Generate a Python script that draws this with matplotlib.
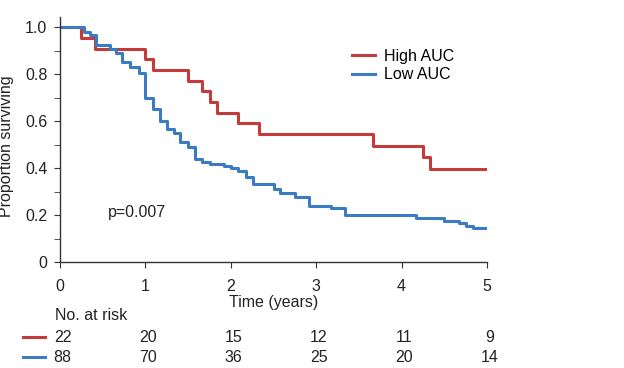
import numpy as np
import matplotlib
matplotlib.use("Agg")
import matplotlib.pyplot as plt
from matplotlib.ticker import MultipleLocator
from matplotlib.lines import Line2D
import matplotlib.transforms as mtransforms

plt.rcParams['font.family'] = ['Liberation Sans', 'DejaVu Sans']
plt.rcParams['font.size'] = 11.5

# Kaplan-Meier steps (time in years, survival after step)
high_t = [0, 0.25, 0.41, 1.0, 1.085, 1.50, 1.665, 1.756, 1.835, 2.09, 2.33, 3.67, 4.25, 4.33, 5.0]
high_s = [1.0, 0.955, 0.909, 0.864, 0.818, 0.773, 0.727, 0.682, 0.636, 0.591, 0.545, 0.496, 0.446, 0.397, 0.397]

low_t = [0, 0.28, 0.35, 0.42, 0.59, 0.66, 0.73, 0.82, 0.92, 1.0, 1.085, 1.17, 1.25, 1.33,
         1.41, 1.50, 1.58, 1.66, 1.756, 1.92, 2.0, 2.09, 2.18, 2.256, 2.51, 2.58, 2.75,
         2.92, 3.17, 3.34, 4.17, 4.50, 4.67, 4.75, 4.84, 5.0]
low_s = [1.0, 0.98, 0.966, 0.926, 0.906, 0.892, 0.854, 0.832, 0.807, 0.70, 0.653, 0.60, 0.568, 0.549,
         0.513, 0.49, 0.44, 0.428, 0.42, 0.408, 0.40, 0.39, 0.362, 0.332, 0.312, 0.295, 0.279,
         0.24, 0.23, 0.20, 0.188, 0.177, 0.166, 0.155, 0.145, 0.145]

risk_times = [0, 1, 2, 3, 4, 5]
risk_high = [22, 20, 15, 12, 11, 9]
risk_low = [88, 70, 36, 25, 20, 14]

red = '#c43c39'
blue = '#3b7bc4'
axis_col = '#333333'

fig = plt.figure(figsize=(6.24, 3.68), dpi=100)
ax = fig.add_axes([60/624, 105.7/368, 427/624, 245.6/368])

ax.step(high_t, high_s, where='post', color=red, lw=2.2, label='High AUC')
ax.step(low_t, low_s, where='post', color=blue, lw=2.2, label='Low AUC')

ax.set_xlim(0, 5)
ax.set_ylim(0, 1.045)
ax.spines['top'].set_visible(False)
ax.spines['right'].set_visible(False)
for s in ['left', 'bottom']:
    ax.spines[s].set_color(axis_col)
    ax.spines[s].set_linewidth(1.0)

ax.xaxis.set_major_locator(MultipleLocator(1))
ax.yaxis.set_minor_locator(MultipleLocator(0.1))
ax.set_yticks([0, 0.2, 0.4, 0.6, 0.8, 1.0])
ax.set_yticklabels(['0', '0.2', '0.4', '0.6', '0.8', '1.0'])
ax.tick_params(axis='both', which='both', direction='out', length=4, color=axis_col, labelcolor='#222222')
ax.tick_params(axis='x', pad=8)
ax.tick_params(axis='y', pad=5)

ax.set_ylabel('Proportion surviving', color='#222222')
ax.yaxis.set_label_coords(-0.108, 0.471)

ax.text(0.56, 0.214, 'p=0.007', color='#222222', va='center', ha='left')

ax.legend(loc='upper left', bbox_to_anchor=(352/624, (368-49)/368), bbox_transform=fig.transFigure,
          frameon=False, handlelength=1.45, handletextpad=0.55, labelspacing=0.2,
          borderpad=0, borderaxespad=0)

# number at risk table
trans = mtransforms.blended_transform_factory(ax.transData, fig.transFigure)
fig.text(0.5*(60+487)/624, (368-302)/368, 'Time (years)', ha='center', va='center', color='#222222')
ax.text(-0.06, (368-316)/368, 'No. at risk', transform=trans, ha='left', va='center',
        color='#222222', clip_on=False)
for tx, nh, nl in zip(risk_times, risk_high, risk_low):
    ax.text(tx + 0.03, (368-337)/368, str(nh), transform=trans, ha='center', va='center',
            color='#222222', clip_on=False)
    ax.text(tx + 0.03, (368-357)/368, str(nl), transform=trans, ha='center', va='center',
            color='#222222', clip_on=False)
for yy, col in [((368-337)/368, red), ((368-357)/368, blue)]:
    fig.add_artist(Line2D([23/624, 45/624], [yy, yy], color=col, lw=2.2, transform=fig.transFigure))

fig.savefig('out.png', dpi=100)
